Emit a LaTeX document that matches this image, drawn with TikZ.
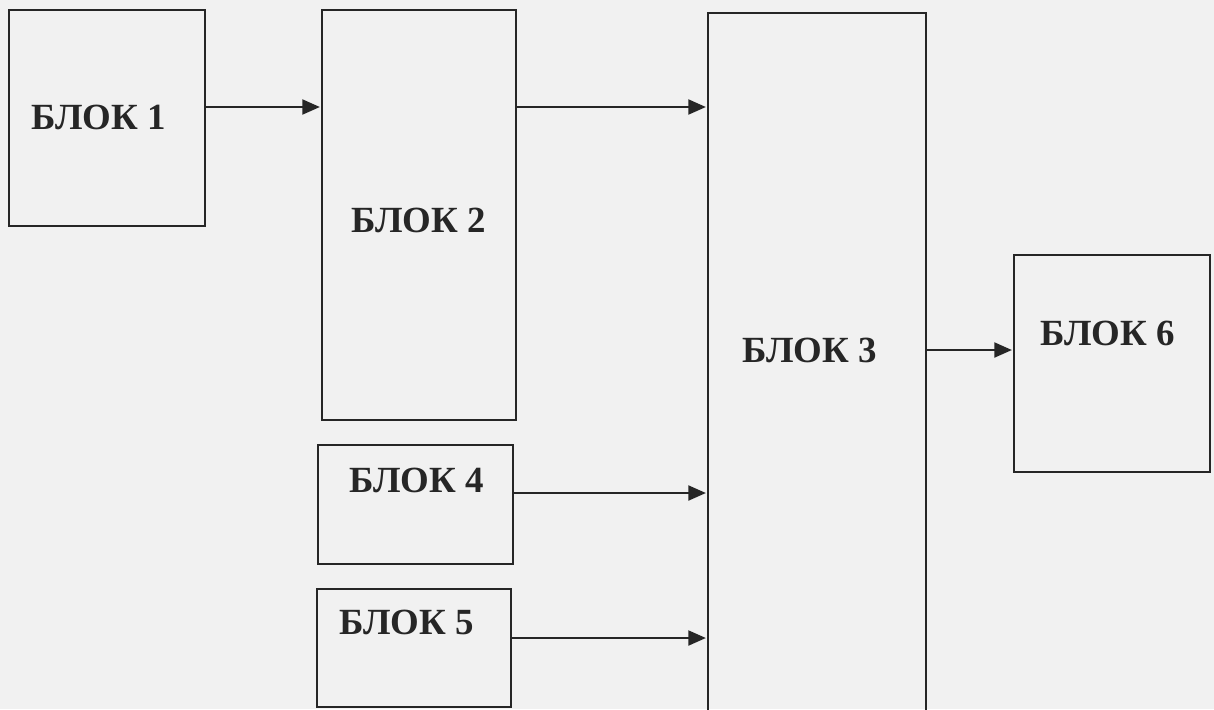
\documentclass[tikz,border=0pt]{standalone}
\usepackage{fontspec}
\setmainfont{Liberation Serif}
\usetikzlibrary{arrows.meta,fit}
\definecolor{scanbg}{HTML}{F1F1F1}
\definecolor{ink}{HTML}{262626}

\begin{document}
\begin{tikzpicture}[x=0.2mm,y=-0.2mm,>={Triangle[length=10pt,width=8.5pt]},
  blk/.style={draw=ink,line width=1.4pt,inner sep=0pt},
  lbl/.style={text=ink,font=\bfseries\fontsize{21}{25}\selectfont},
  arr/.style={->,draw=ink,line width=1.3pt,shorten >=0.5pt}]
  \fill[scanbg] (0,0) rectangle (1214,709);
  \useasboundingbox (0,0) rectangle (1214,709);
  % blocks
  \node[blk,fit={(9,10) (205,226)}] (b1) {};
  \node[blk,fit={(322,10) (516,420)}] (b2) {};
  \node[blk,fit={(708,13) (926,730)}] (b3) {};
  \node[blk,fit={(318,445) (513,564)}] (b4) {};
  \node[blk,fit={(317,589) (511,707)}] (b5) {};
  \node[blk,fit={(1014,255) (1210,472)}] (b6) {};
  % labels
  \node[lbl] (t1) at (99,117) {БЛОК 1};
  \node[lbl] (t2) at (419,220) {БЛОК 2};
  \node[lbl] (t3) at (810,350) {БЛОК 3};
  \node[lbl] (t4) at (417,480) {БЛОК 4};
  \node[lbl] (t5) at (407,622) {БЛОК 5};
  \node[lbl] (t6) at (1108,333) {БЛОК 6};
  % arrow heights
  \coordinate (y12) at (0,107);
  \coordinate (y23) at (0,107);
  \coordinate (y36) at (0,350);
  \coordinate (y43) at (0,493);
  \coordinate (y53) at (0,638);
  \draw[arr] (b1.east |- y12) -- (b2.west |- y12);
  \draw[arr] (b2.east |- y23) -- (b3.west |- y23);
  \draw[arr] (b3.east |- y36) -- (b6.west |- y36);
  \draw[arr] (b4.east |- y43) -- (b3.west |- y43);
  \draw[arr] (b5.east |- y53) -- (b3.west |- y53);
\end{tikzpicture}
\end{document}
